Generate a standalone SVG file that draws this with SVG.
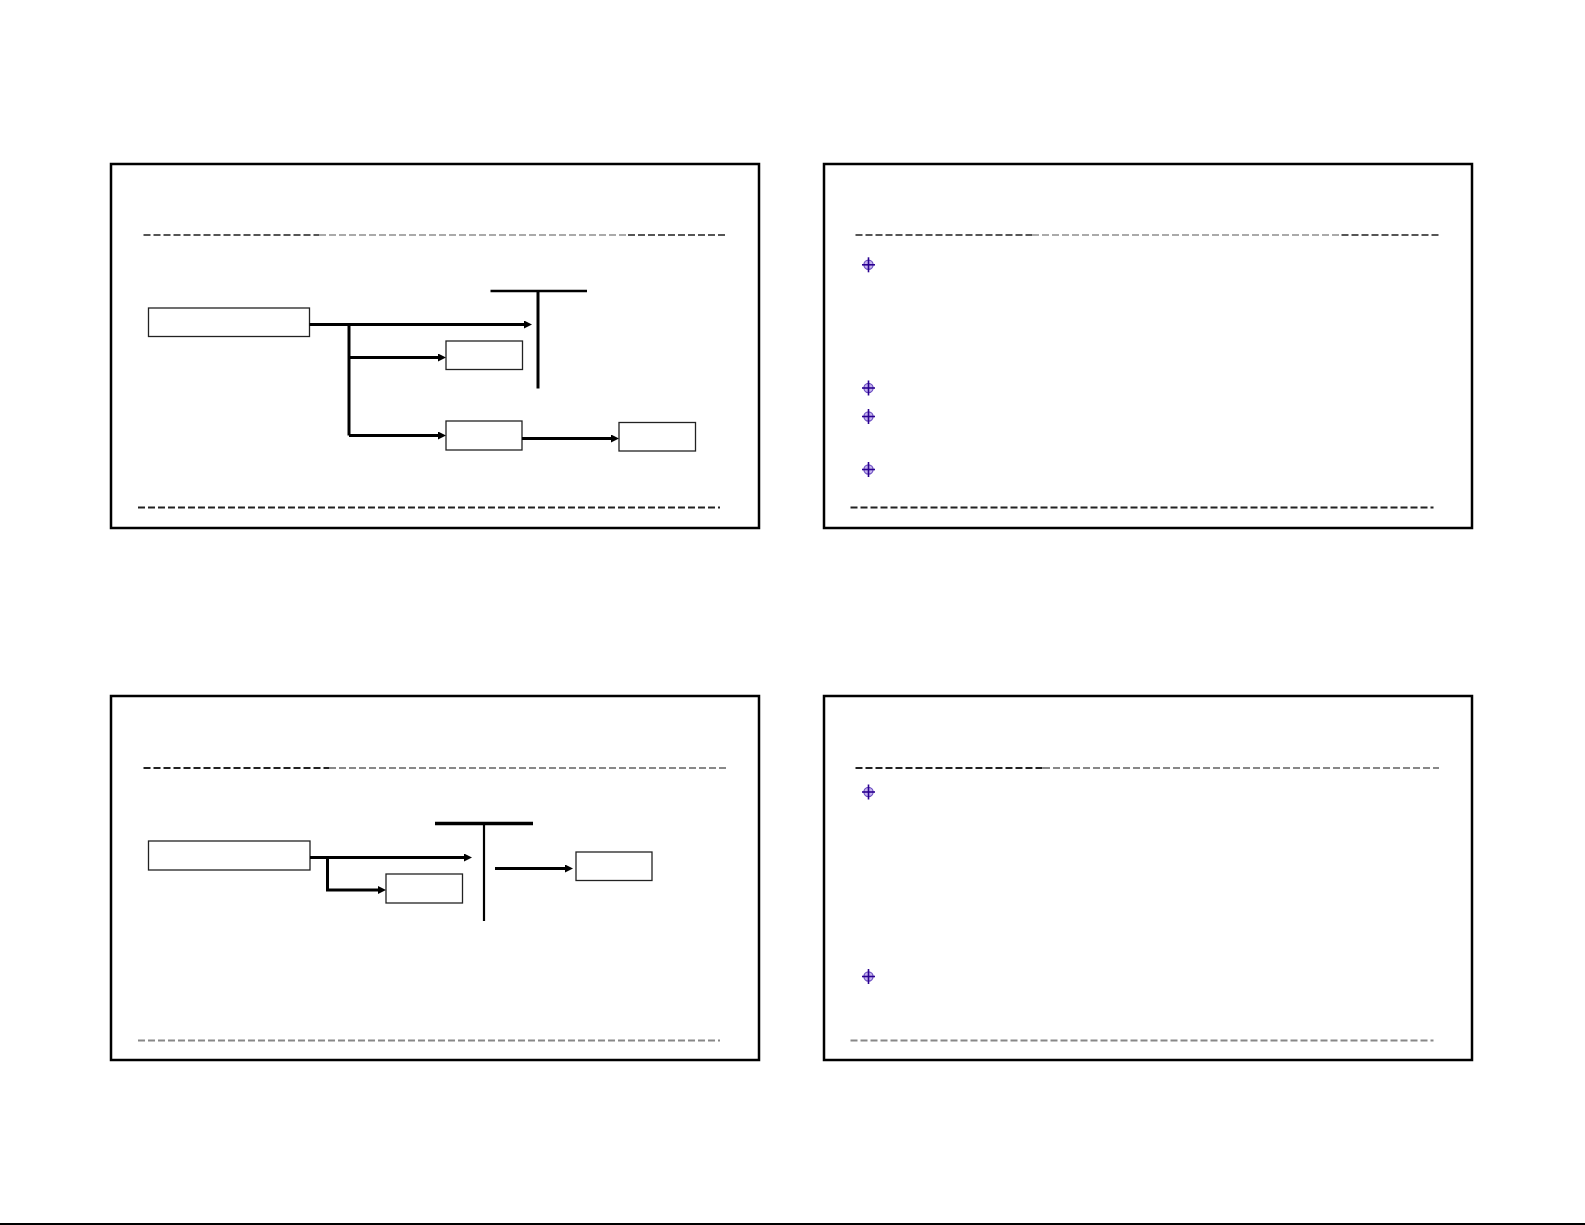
<svg xmlns="http://www.w3.org/2000/svg" width="1585" height="1225" viewBox="0 0 1585 1225">
<style>
.panel{fill:#fff;stroke:#000;stroke-width:2.5}
.box{fill:#fff;stroke:#222;stroke-width:1.3}
.dd{stroke:#555;stroke-width:2;stroke-dasharray:7 3;fill:none}
.dg{stroke:#aaa;stroke-width:2;stroke-dasharray:7 3;fill:none}
.dk{stroke:#222;stroke-width:2;stroke-dasharray:7 3;fill:none}
.dm{stroke:#888;stroke-width:2;stroke-dasharray:7 3;fill:none}
.conn{stroke:#000;fill:none;stroke-width:3}
.bar{stroke:#000;fill:none}
.bl-c{fill:#c4b2ee;stroke:#6a4cc0;stroke-width:1.2}
.bl-x{stroke:#2a0090;stroke-width:1.6}
</style>
<defs>
<marker id="ah" markerUnits="userSpaceOnUse" markerWidth="8" markerHeight="8" refX="2" refY="4" orient="auto">
<path d="M0,0 L8,4 L0,8 z" fill="#000"/>
</marker>
<g id="bullet">
<circle class="bl-c" cx="0" cy="0" r="4.6"/>
<line class="bl-x" x1="-6.5" y1="0" x2="6.5" y2="0"/>
<line class="bl-x" x1="0" y1="-7.5" x2="0" y2="7.5"/>
</g>
</defs>
<rect width="1585" height="1225" fill="#fff"/>

<!-- Panel 1 -->
<g id="panel1">
<rect class="panel" x="111" y="164" width="648" height="364"/>
<line class="dd" x1="143.5" y1="235" x2="319" y2="235"/>
<line class="dg" x1="319" y1="235" x2="628" y2="235"/>
<line class="dd" x1="628" y1="235" x2="726" y2="235"/>
<line class="dk" x1="138" y1="507.5" x2="720" y2="507.5"/>
<g id="p1-boxA"><rect class="box" x="148.5" y="308" width="161" height="28.5"/></g>
<g id="p1-boxB"><rect class="box" x="446" y="341" width="76.5" height="28.5"/></g>
<g id="p1-boxC"><rect class="box" x="446" y="421" width="76" height="29"/></g>
<g id="p1-boxD"><rect class="box" x="619" y="422.5" width="76.5" height="28.5"/></g>
<g id="p1-T">
<line class="bar" stroke-width="2.5" x1="490.5" y1="291" x2="587" y2="291"/>
<line class="bar" stroke-width="3" x1="538" y1="290" x2="538" y2="388.5"/>
</g>
</g>

<!-- Panel 2 -->
<g id="panel2">
<rect class="panel" x="824" y="164" width="648" height="364"/>
<line class="dd" x1="855.5" y1="235" x2="1032" y2="235"/>
<line class="dg" x1="1032" y1="235" x2="1341.5" y2="235"/>
<line class="dd" x1="1341.5" y1="235" x2="1439" y2="235"/>
<line class="dk" x1="850.5" y1="507.5" x2="1433.5" y2="507.5"/>
<use href="#bullet" x="868.5" y="264.8"/>
<use href="#bullet" x="868.5" y="388"/>
<use href="#bullet" x="868.5" y="416.5"/>
<use href="#bullet" x="868.5" y="469.5"/>
</g>

<!-- Panel 3 -->
<g id="panel3">
<rect class="panel" x="111" y="696" width="648" height="364"/>
<line class="dk" x1="143.5" y1="768" x2="329" y2="768"/>
<line class="dm" x1="329" y1="768" x2="726" y2="768"/>
<line class="dm" x1="138" y1="1040.5" x2="720" y2="1040.5"/>
<g id="p3-boxA"><rect class="box" x="148.5" y="841" width="161.5" height="29"/></g>
<g id="p3-boxB"><rect class="box" x="386" y="874" width="76.5" height="29"/></g>
<g id="p3-boxC"><rect class="box" x="576" y="852" width="76" height="28.5"/></g>
<g id="p3-T">
<line class="bar" stroke-width="3.5" x1="435" y1="823.5" x2="533" y2="823.5"/>
<line class="bar" stroke-width="2.2" x1="484" y1="823" x2="484" y2="921"/>
</g>
</g>

<!-- Panel 4 -->
<g id="panel4">
<rect class="panel" x="824" y="696" width="648" height="364"/>
<line class="dk" x1="855.5" y1="768" x2="1043" y2="768"/>
<line class="dm" x1="1043" y1="768" x2="1439" y2="768"/>
<line class="dm" x1="850.5" y1="1040.5" x2="1433.5" y2="1040.5"/>
<use href="#bullet" x="868.5" y="792"/>
<use href="#bullet" x="868.5" y="976.5"/>
</g>

<!-- Connectors -->
<g id="connectors">
<path class="conn" d="M309.5,324.5 H526" marker-end="url(#ah)"/>
<path class="conn" d="M349,324.5 V435.5"/>
<path class="conn" d="M349,357.5 H440" marker-end="url(#ah)"/>
<path class="conn" d="M349,435.5 H440" marker-end="url(#ah)"/>
<path class="conn" stroke-width="2.5" d="M522,438.5 H613" marker-end="url(#ah)"/>
<path class="conn" d="M310,857.5 H466" marker-end="url(#ah)"/>
<path class="conn" stroke-width="2.5" d="M327.5,857.5 V890 H380" marker-end="url(#ah)"/>
<path class="conn" d="M495,868.5 H567" marker-end="url(#ah)"/>
</g>

<line x1="0" y1="1224" x2="1585" y2="1224" stroke="#000" stroke-width="2"/>
</svg>
